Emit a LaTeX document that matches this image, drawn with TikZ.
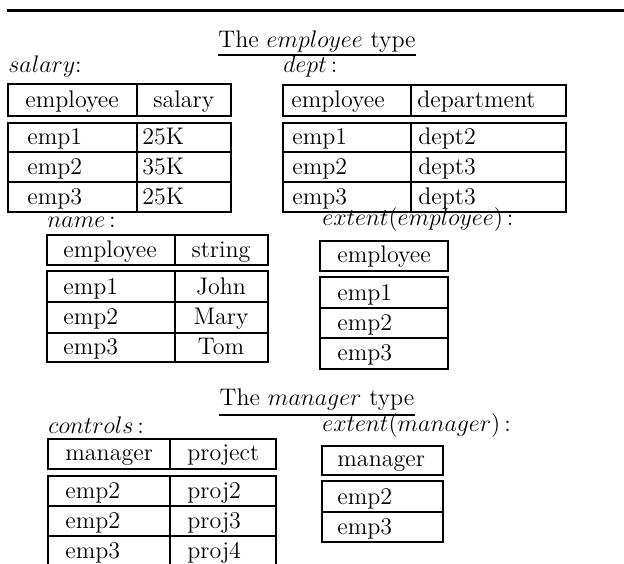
\documentclass[tikz,border=0pt]{standalone}
\begin{document}
\begin{tikzpicture}[
		x=0.5pt, y=-0.5pt,
		every node/.style={inner sep=0pt, font=\fontsize{12}{14}\selectfont},
		cell/.style={anchor=base west},
		mid/.style={anchor=base},
		lbl/.style={anchor=base west},
		box/.style={draw, line width=0.7pt}
	]
	\clip (0,0) rectangle (624,563);
	\draw[line width=1.5pt] (7,10) -- (624,10);
	% the employee type
	\node[mid] (temp) at (317,47) {The $employee$ type};
	\draw[line width=0.7pt] ([yshift=-4pt]temp.base west) -- ([yshift=-4pt]temp.base east);
	% salary
	\node[lbl] (lsal) at (8,72) {$salary$:};
	\draw[box] (8,84) rectangle (231,116) (137,84) -- (137,116);
	\draw[box] (8,123) rectangle (231,212) (137,123) -- (137,212);
	\foreach \y in {152,182} \draw[box] (8,\y) -- (231,\y);
	\node[cell] (salh1) at (25,107) {employee};
	\node[cell] (salh2) at (153,107) {salary};
	\foreach \e/\v [count=\i] in {emp1/25K,emp2/35K,emp3/25K} {
		\node[cell] (sala\i) at (27,114+30*\i) {\e};
		\node[cell] (salb\i) at (142,114+30*\i) {\v};
	}
	% dept
	\node[lbl] (ldept) at (283,72) {$dept$\,:};
	\draw[box] (283,85) rectangle (566,116) (411,85) -- (411,116);
	\draw[box] (283,123) rectangle (566,212) (411,123) -- (411,212);
	\foreach \y in {152,182} \draw[box] (283,\y) -- (566,\y);
	\node[cell] (deph1) at (291,107) {employee};
	\node[cell] (deph2) at (417,107) {department};
	\foreach \e/\v [count=\i] in {emp1/dept2,emp2/dept3,emp3/dept3} {
		\node[cell] (depa\i) at (292,114+30*\i) {\e};
		\node[cell] (depb\i) at (418,114+30*\i) {\v};
	}
	% name
	\node[lbl] (lname) at (47,227) {$name$\,:};
	\draw[box] (47,235) rectangle (268,265) (175,235) -- (175,265);
	\draw[box] (47,271) rectangle (268,362) (175,271) -- (175,362);
	\foreach \y in {302,333} \draw[box] (47,\y) -- (268,\y);
	\node[cell] (namh1) at (63,257) {employee};
	\node[mid] (namh2) at (221,257) {string};
	\foreach \e/\v [count=\i] in {emp1/John,emp2/Mary,emp3/Tom} {
		\node[cell] (nama\i) at (63,264+30*\i) {\e};
		\node[mid] (namb\i) at (221,264+30*\i) {\v};
	}
	% extent(employee)
	\node[lbl] (lextemp) at (322,225) {$extent(employee)$\,:};
	\draw[box] (320,241) rectangle (448,271);
	\draw[box] (320,277) rectangle (448,369);
	\foreach \y in {308,338} \draw[box] (320,\y) -- (448,\y);
	\node[cell] (exeh) at (337,262) {employee};
	\foreach \e [count=\i] in {emp1,emp2,emp3}
		\node[cell] (exea\i) at (337,270+30*\i) {\e};
	% the manager type
	\node[mid] (tman) at (317,405) {The $manager$ type};
	\draw[line width=0.7pt] ([yshift=-5pt]tman.base west) -- ([yshift=-5pt]tman.base east);
	% controls
	\node[lbl] (lcon) at (48,433) {$controls$\,:};
	\draw[box] (48,439) rectangle (276,469) (170,439) -- (170,469);
	\draw[box] (48,476) rectangle (276,570) (170,476) -- (170,570);
	\foreach \y in {506,536} \draw[box] (48,\y) -- (276,\y);
	\node[cell] (conh1) at (65,460) {manager};
	\node[cell] (conh2) at (187,460) {project};
	\foreach \e/\v [count=\i] in {emp2/proj2,emp2/proj3,emp3/proj4} {
		\node[cell] (cona\i) at (65,468+30*\i) {\e};
		\node[cell] (conb\i) at (187,468+30*\i) {\v};
	}
	% extent(manager)
	\node[lbl] (lextman) at (322,431) {$extent(manager)$\,:};
	\draw[box] (322,446) rectangle (443,475);
	\draw[box] (322,481) rectangle (443,542);
	\draw[box] (322,512) -- (443,512);
	\node[cell] (exmh) at (337,466) {manager};
	\foreach \e [count=\i] in {emp2,emp3}
		\node[cell] (exma\i) at (337,474+30*\i) {\e};
\end{tikzpicture}
\end{document}
